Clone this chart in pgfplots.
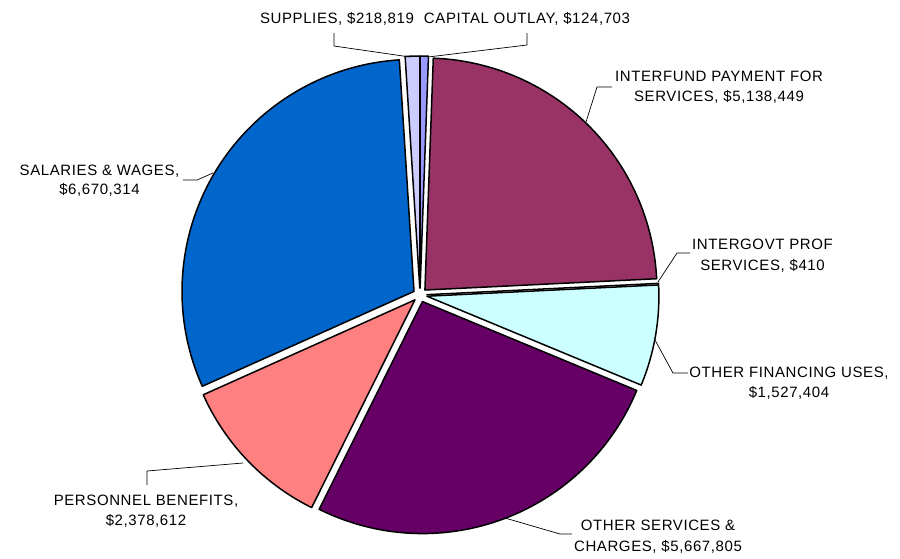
\documentclass[border=0pt]{standalone}
\usepackage{pgfplots}
\pgfplotsset{compat=1.18}
\usepackage{fontspec}
\setmainfont{Liberation Sans}[LetterSpace=4]
% values (clockwise from 12 o'clock)
\def\vA{124703}   % CAPITAL OUTLAY
\def\vB{5138449}  % INTERFUND PAYMENT FOR SERVICES
\def\vC{410}      % INTERGOVT PROF SERVICES
\def\vD{1527404}  % OTHER FINANCING USES
\def\vE{5667805}  % OTHER SERVICES & CHARGES
\def\vF{2378612}  % PERSONNEL BENEFITS
\def\vG{6670314}  % SALARIES & WAGES
\def\vH{218819}   % SUPPLIES
\edef\T{\fpeval{\vA+\vB+\vC+\vD+\vE+\vF+\vG+\vH}}
\edef\aA{\fpeval{90-360*(\vA)/\T}}
\edef\aB{\fpeval{90-360*(\vA+\vB)/\T}}
\edef\aC{\fpeval{90-360*(\vA+\vB+\vC)/\T}}
\edef\aD{\fpeval{90-360*(\vA+\vB+\vC+\vD)/\T}}
\edef\aE{\fpeval{90-360*(\vA+\vB+\vC+\vD+\vE)/\T}}
\edef\aF{\fpeval{90-360*(\vA+\vB+\vC+\vD+\vE+\vF)/\T}}
\edef\aG{\fpeval{90-360*(\vA+\vB+\vC+\vD+\vE+\vF+\vG)/\T}}
\def\aH{-270}
\definecolor{cA}{HTML}{9999FF}
\definecolor{cB}{HTML}{993366}
\definecolor{cC}{HTML}{FFFFCC}
\definecolor{cD}{HTML}{CCFFFF}
\definecolor{cE}{HTML}{660066}
\definecolor{cF}{HTML}{FF8080}
\definecolor{cG}{HTML}{0066CC}
\definecolor{cH}{HTML}{CCCCFF}
\newcommand\slice[3]{% #1 end angle, #2 start angle, #3 colour
  \edef\mid{\fpeval{(#1+#2)/2}}%
  \edef\ox{\fpeval{420+7*cosd(\mid)}}%
  \edef\oy{\fpeval{295-7*sind(\mid)}}%
  \edef\temp{\noexpand\addplot[draw=black, line width=1.5pt, line join=round, fill=#3, domain=#1:#2, samples=150] ({\ox+232*cos(x)},{\oy-232*sin(x)}) -- (\ox,\oy) -- cycle;}%
  \temp
}
\begin{document}
\begin{tikzpicture}
\begin{axis}[width=900pt, height=558pt, scale only axis, xmin=0, xmax=900, ymin=0, ymax=558, y dir=reverse, hide axis, clip=false]
\path (0,0) rectangle (900,558);
\slice{\aA}{90}{cA}
\slice{\aB}{\aA}{cB}
\slice{\aC}{\aB}{cC}
\slice{\aD}{\aC}{cD}
\slice{\aE}{\aD}{cE}
\slice{\aF}{\aE}{cF}
\slice{\aG}{\aF}{cG}
\slice{\aH}{\aG}{cH}
% leader lines
\draw[black, line width=0.7pt] (334,33) -- (334,46) -- (410,57);
\draw[black, line width=0.7pt] (527,33) -- (527,45) -- (428,57);
\draw[black, line width=0.7pt] (612,87) -- (597,87) -- (586,122);
\draw[black, line width=0.7pt] (690,253) -- (677,253) -- (658,282);
\draw[black, line width=0.7pt] (655,340) -- (673,373) -- (688,373);
\draw[black, line width=0.7pt] (183,180) -- (197,180) -- (213,173);
\draw[black, line width=0.7pt] (147,485) -- (147,471) -- (243,463);
\draw[black, line width=0.7pt] (505,518) -- (560,534) -- (572,534);
% labels
\tikzset{lbl/.style={anchor=base, inner sep=0pt, font=\fontsize{15}{20}\selectfont, text=black}}
\node[lbl] at (337,23) {SUPPLIES, \$218,819};
\node[lbl] at (527,23) {CAPITAL OUTLAY, \$124,703};
\node[lbl] at (719,81.7) {INTERFUND PAYMENT FOR};
\node[lbl] at (719,101.7) {SERVICES, \$5,138,449};
\node[lbl] at (762.5,249) {INTERGOVT PROF};
\node[lbl] at (762.5,270) {SERVICES, \$410};
\node[lbl] at (789,377) {OTHER FINANCING USES,};
\node[lbl] at (789,397) {\$1,527,404};
\node[lbl] at (99.5,175) {SALARIES \& WAGES,};
\node[lbl] at (99.5,194) {\$6,670,314};
\node[lbl] at (146,505.7) {PERSONNEL BENEFITS,};
\node[lbl] at (146,525) {\$2,378,612};
\node[lbl] at (658,530) {OTHER SERVICES \&};
\node[lbl] at (658,551) {CHARGES, \$5,667,805};
\end{axis}
\end{tikzpicture}
\end{document}
